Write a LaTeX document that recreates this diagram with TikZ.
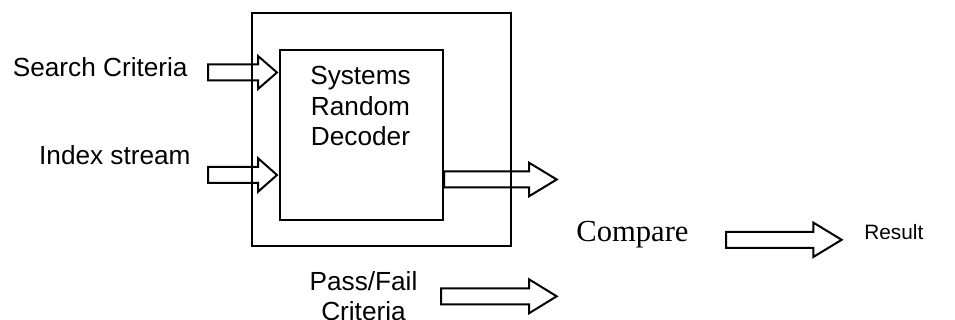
\documentclass[tikz,border=0pt]{standalone}
\usepackage{fontspec}
\setmainfont{Liberation Sans}
\newfontfamily\serifont{Liberation Serif}
\usetikzlibrary{calc}
\tikzset{
  box/.style={draw, line width=1pt, inner sep=0pt},
  txt/.style={inner sep=0pt, font=\fontsize{13.1pt}{15.3pt}\selectfont},
  fat/.style={draw, line width=1pt, line join=miter},
}
\begin{document}
\begin{tikzpicture}[x=0.5pt,y=-0.5pt]
  \useasboundingbox (0,0) rectangle (955,320);
  % boxes
  \node[box, anchor=north west, minimum width=129.5pt, minimum height=116.5pt] (system) at (251,12) {};
  \node[box, anchor=north west, minimum width=81.5pt, minimum height=85pt] (decoder) at (279,49) {};
  \node[txt, align=center, anchor=north] (decodertext) at (360.5,66) {Systems\\Random\\Decoder};
  % texts
  \node[txt, anchor=base east] (search) at (188,76.7) {Search Criteria};
  \node[txt, anchor=base east] (index) at (191,164.3) {Index stream};
  \node[txt, align=center, anchor=north] (passfail) at (363.5,271) {Pass/Fail\\Criteria};
  \node[inner sep=0pt, anchor=base west, font=\serifont\fontsize{15.3pt}{17pt}\selectfont] (compare) at (576,241.7) {Compare};
  \node[inner sep=0pt, anchor=base west, font=\fontsize{10.4pt}{12pt}\selectfont] (result) at (864,239.3) {Result};
  % arrow ends
  \coordinate (searchin) at (208,72.5);
  \coordinate (searchtip) at (277,72.5);
  \coordinate (indexin) at (208,175);
  \coordinate (indextip) at (277,175);
  \coordinate (outin) at (decoder.east |- 0,179.5);
  \coordinate (outtip) at (556.7,179.5);
  \coordinate (passin) at (441,296.3);
  \coordinate (passtip) at (556.7,296.3);
  \coordinate (comparein) at (726,239.8);
  \coordinate (comparetip) at (841.7,239.8);
  \def \Arrows{
    searchin/searchtip/19/16.5,
    indexin/indextip/19/16.8,
    outin/outtip/27.5/16.7,
    passin/passtip/27.7/17,
    comparein/comparetip/28.4/17.2}
  \foreach \s / \t / \L / \h in \Arrows{
    \draw[fat] ($(\s)+(0,-8)$) -- ($(\t)+(-\L,-8)$) -- ($(\t)+(-\L,-\h)$) -- (\t)
      -- ($(\t)+(-\L,\h)$) -- ($(\t)+(-\L,8)$) -- ($(\s)+(0,8)$) -- cycle;
  }
\end{tikzpicture}
\end{document}
